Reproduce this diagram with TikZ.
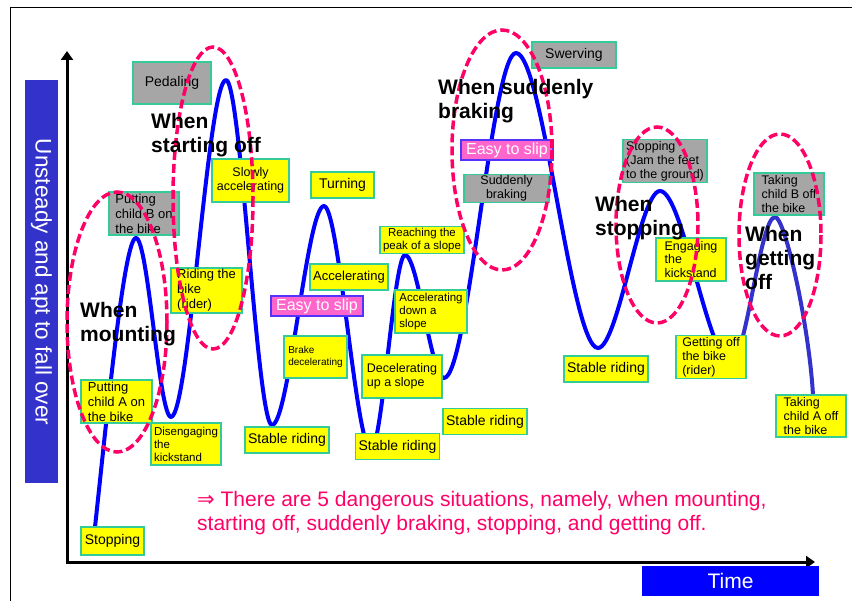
\documentclass[tikz,border=0pt]{standalone}
\usepackage{fontspec}
\setmainfont{Liberation Sans}
\newfontfamily\arrowfont{DejaVu Sans}
\usetikzlibrary{arrows.meta}

\definecolor{curveblue}{HTML}{0000FF}
\definecolor{curvepurple}{HTML}{3333CC}
\definecolor{boxyellow}{HTML}{FFFF00}
\definecolor{boxgray}{HTML}{A6A6A6}
\definecolor{boxedge}{HTML}{33CC99}
\definecolor{slippink}{HTML}{FF66CC}
\definecolor{slipedge}{HTML}{5533FF}
\definecolor{dangerpink}{HTML}{FF0066}
\definecolor{labelblue}{HTML}{3333CC}
\definecolor{timeblue}{HTML}{0000FF}

\begin{document}
\begin{tikzpicture}[x=1pt,y=-1pt,
    ybox/.style={draw=boxedge, fill=boxyellow, line width=1.2pt, inner sep=1.5pt, align=left},
    gbox/.style={ybox, fill=boxgray},
    wh/.style 2 args={minimum width=#1pt, minimum height=#2pt},
    f10/.style={font=\fontsize{10}{11.5}\selectfont},
    f11/.style={font=\fontsize{11.5}{13}\selectfont},
    f12/.style={font=\fontsize{12.5}{13.8}\selectfont},
    f13/.style={font=\fontsize{13}{15}\selectfont},
    f14/.style={font=\fontsize{14}{16}\selectfont},
    slip/.style={draw=slipedge, fill=slippink, line width=1.2pt, text=white, inner sep=0pt,
      minimum width=92pt, minimum height=20pt, font=\fontsize{16}{16}\selectfont},
    danger/.style={draw=dangerpink, line width=3.5pt, dash pattern=on 9pt off 4pt},
    when/.style={font=\bfseries\fontsize{21}{24}\selectfont, align=left, anchor=west, inner sep=0pt},
    curve/.style={draw=curveblue, line width=4pt, line cap=round, line join=round},
    axis/.style={line width=3pt, {Triangle[length=9pt,width=12pt]}-{Triangle[length=9pt,width=12pt]}}]
  \useasboundingbox (0,0) rectangle (852,601);
  \draw[line width=0.8pt] (10.5,601) -- (10.5,7.5) -- (852,7.5);

  % axes and their labels
  \coordinate (ytip) at (67,51);
  \coordinate (orig) at (67,562);
  \coordinate (xtip) at (815,562);
  \draw[axis] (ytip) -- (orig) -- (xtip);
  \node[fill=labelblue, rotate=-90, minimum width=403pt, minimum height=33pt, inner sep=0pt,
    text=white, font=\fontsize{22.5}{22.5}\selectfont] (ylab) at (41.5,282) {Unsteady and apt to fall over};
  \node[fill=timeblue, minimum width=177pt, minimum height=30pt, inner sep=0pt,
    text=white, font=\fontsize{21}{21}\selectfont] (tlab) at (730.5,581) {Time};

  % the ride
  \draw[curve] (95,527) .. controls +(12,-110) and +(-12,0) .. (136,238)
    .. controls +(12,0) and +(-12,0) .. (171,417)
    .. controls +(18,0) and +(-18,0) .. (226,80)
    .. controls +(15,0) and +(-15,0) .. (272,425)
    .. controls +(17,0) and +(-17,0) .. (324,206)
    .. controls +(15,0) and +(-15,0) .. (371,450)
    .. controls +(11,0) and +(-11,0) .. (405,255)
    .. controls +(13,0) and +(-13,0) .. (444,378)
    .. controls +(24,0) and +(-24,0) .. (516,53)
    .. controls +(27,0) and +(-27,0) .. (598,348)
    .. controls +(20,0) and +(-20,0) .. (660,191)
    .. controls +(23,0) and +(-23,0) .. (731,362);
  \draw[curve, draw=curvepurple] (731,362) .. controls +(15,0) and +(-15,0) .. (775,217)
    .. controls +(10,0) and +(-4,-70) .. (813,395);

  % situations
  \node[gbox, wh={78}{42}, f14] (pedal) at (172,83) {Pedaling};
  \node[gbox, wh={70}{43}, f13] (putB) at (144,213.5) {Putting\\child B on\\the bike};
  \node[ybox, wh={77}{43}, f12, align=center] (slowacc) at (250.5,180.5) {Slowly\\accelerating};
  \node[ybox, wh={71}{43}, f13] (riding) at (206.5,290.5) {Riding the\\bike\\(rider)};
  \node[ybox, wh={71}{43}, f13] (putA) at (116.5,401.5) {Putting\\child A on\\the bike};
  \node[ybox, wh={70}{42}, f11] (diseng) at (186,444) {Disengaging\\the\\kickstand};
  \node[ybox, wh={63}{28}, f14] (stopA) at (112.5,541) {Stopping};
  \node[ybox, wh={63}{26}, f14] (turn) at (342.5,185) {Turning};
  \node[ybox, wh={78}{26}, f13] (accel) at (349,277) {Accelerating};
  \node[ybox, wh={84}{26}, f11, align=center] (peak) at (422,240) {Reaching the\\peak of a slope};
  \node[ybox, wh={72}{43}, f11] (down) at (431,311.5) {Accelerating\\down a\\slope};
  \node[ybox, wh={63}{42}, f10] (brake) at (315.5,357) {Brake\\decelerating};
  \node[ybox, wh={80}{43}, f12] (upslope) at (402,376.5) {Decelerating\\up a slope};
  \foreach \n/\x/\y in {stabA/287/440, stabB/397.5/446.5, stabC/485/421.5, stabD/606/369}
    \node[ybox, wh={84}{26}, f14] (\n) at (\x,\y) {Stable riding};
  \foreach \n/\x/\y in {slipA/317/306, slipB/507/150}
    \node[slip] (\n) at (\x,\y) {Easy to slip};
  \node[gbox, wh={84}{26}, f14] (swerve) at (574,55) {Swerving};
  \node[gbox, wh={85}{27}, f12, align=center] (sudden) at (506.5,188.5) {Suddenly\\braking};
  \node[gbox, wh={84}{42}, f12] (jam) at (665,161) {Stopping\\(Jam the feet\\to the ground)};
  \node[ybox, wh={70}{43}, f12] (engage) at (691,259.5) {Engaging\\the\\kickstand};
  \node[ybox, wh={70}{42}, f12] (getoff) at (711,357) {Getting off\\the bike\\(rider)};
  \node[gbox, wh={70}{42}, f12] (takeB) at (789,194) {Taking\\child B off\\the bike};
  \node[ybox, wh={70}{42}, f12] (takeA) at (811,416) {Taking\\child A off\\the bike};

  % dangerous moments
  \foreach \x/\y/\a/\b in {117/322/50/130, 213/198/40/151, 502/150/50/120, 657/225/41/98, 780/235/41/101}
    \draw[danger] (\x,\y) ellipse [x radius=\a, y radius=\b];
  \node[when] (wMount) at (80,324) {When\\mounting};
  \node[when] (wStart) at (151,135.5) {When\\starting off};
  \node[when] (wBrake) at (438,101.5) {When suddenly\\braking};
  \node[when] (wStop) at (595,218.5) {When\\stopping};
  \node[when] (wGetoff) at (745,258) {When\\getting\\off};

  \node[anchor=west, align=left, inner sep=0pt, text=dangerpink, font=\fontsize{21}{24}\selectfont]
    (summary) at (197,513) {{\arrowfont ⇒} There are 5 dangerous situations, namely, when mounting,\\starting off, suddenly braking, stopping, and getting off.};
\end{tikzpicture}
\end{document}
